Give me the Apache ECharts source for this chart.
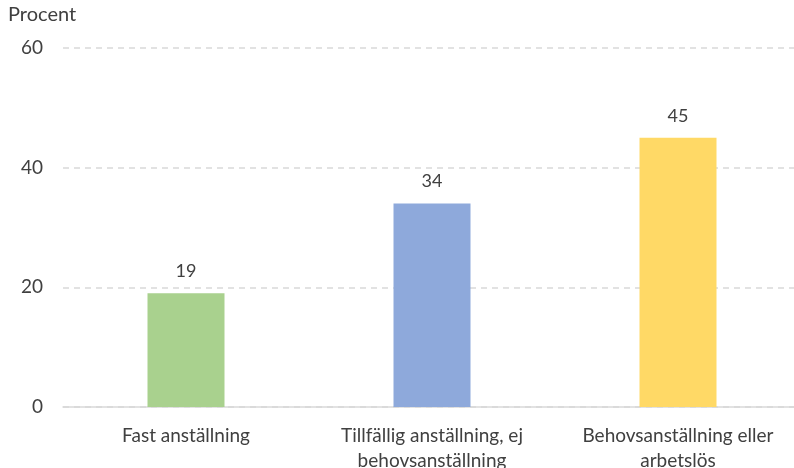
<!DOCTYPE html>
<html><head><meta charset="utf-8">
<script src="https://cdn.jsdelivr.net/npm/echarts@6/dist/echarts.min.js"></script>
<style>html,body{margin:0;padding:0;background:#fff}#c{width:794px;height:468px}</style>
</head><body><div id="c"></div>
<script>
const categories = ['Fast anställning', 'Tillfällig anställning, ej\nbehovsanställning', 'Behovsanställning eller\narbetslös'];
const values = [19, 34, 45];
const colors = ['#A9D18E', '#8EA9DB', '#FFD966'];
const yTicks = { min: 0, max: 60, interval: 20 };
const font = 'Lato, "Open Sans", sans-serif';
const chart = echarts.init(document.getElementById('c'), null, { renderer: 'canvas' });
chart.setOption({
  animation: false,
  textStyle: { fontFamily: font },
  grid: { left: 63, top: 48, width: 738, height: 359, containLabel: false, outerBoundsMode: 'none' },
  graphic: [{ type: 'text', left: 8, top: 5, style: { text: 'Procent', font: '20px ' + font, fill: '#404040' } }],
  xAxis: {
    type: 'category', data: categories,
    axisLine: { lineStyle: { color: '#D9D9D9', width: 1.5 } },
    axisTick: { show: false },
    axisLabel: { color: '#404040', fontSize: 19, lineHeight: 25, margin: 16, interval: 0 }
  },
  yAxis: {
    type: 'value', min: yTicks.min, max: yTicks.max, interval: yTicks.interval,
    axisLine: { show: false }, axisTick: { show: false },
    axisLabel: { color: '#404040', fontSize: 19, margin: 20 },
    splitLine: { lineStyle: { color: '#D9D9D9', type: [6, 5], width: 1.5 } }
  },
  series: [{
    type: 'bar', barWidth: 77,
    data: values.map((v, i) => ({ value: v, itemStyle: { color: colors[i] } })),
    label: { show: true, position: 'top', distance: 13, color: '#404040', fontSize: 18 }
  }]
});
</script></body></html>
